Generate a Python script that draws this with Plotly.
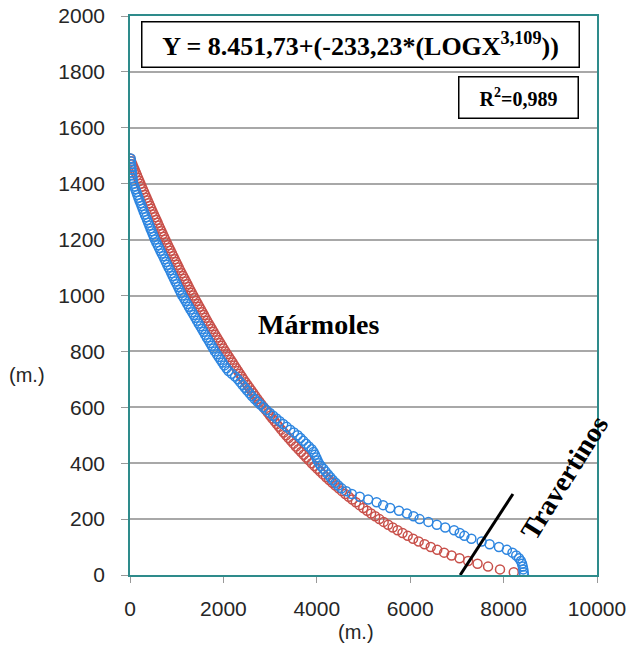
import plotly.graph_objects as go

# Fitted curve (red): distance (m) vs elevation (m)
red_elev = [1490, 1480, 1470, 1460, 1450, 1440, 1430, 1420, 1410, 1400,
            1390, 1380, 1370, 1360, 1350, 1340, 1330, 1320, 1310, 1300,
            1290, 1280, 1270, 1260, 1250, 1240, 1230, 1220, 1210, 1200,
            1190, 1180, 1170, 1160, 1150, 1140, 1130, 1120, 1110, 1100,
            1090, 1080, 1070, 1060, 1050, 1040, 1030, 1020, 1010, 1000,
            990, 980, 970, 960, 950, 940, 930, 920, 910, 900,
            890, 880, 870, 860, 850, 840, 830, 820, 810, 800,
            790, 780, 770, 760, 750, 740, 730, 720, 710, 700,
            690, 680, 670, 660, 650, 640, 630, 620, 610, 600,
            590, 580, 570, 560, 550, 540, 530, 520, 510, 500,
            490, 480, 470, 460, 450, 440, 430, 420, 410, 400,
            390, 380, 370, 360, 350, 340, 330, 320, 310, 300,
            290, 280, 270, 260, 250, 240, 230, 220, 210, 200,
            190, 180, 170, 160, 150, 140, 130, 120, 110, 100,
            90, 80, 70, 60, 50, 40, 30, 20, 10]
red_dist = [1, 25, 50, 74, 99, 124, 149, 174, 199, 224,
            249, 275, 301, 327, 353, 379, 405, 431, 457, 483,
            511, 538, 565, 592, 619, 646, 673, 700, 728, 756,
            784, 812, 841, 870, 899, 928, 957, 986, 1015, 1044,
            1074, 1105, 1136, 1167, 1198, 1229, 1260, 1291, 1322, 1353,
            1386, 1419, 1452, 1485, 1518, 1551, 1584, 1617, 1650, 1684,
            1719, 1754, 1789, 1825, 1861, 1897, 1933, 1969, 2005, 2042,
            2080, 2118, 2157, 2196, 2235, 2274, 2313, 2352, 2392, 2432,
            2474, 2516, 2558, 2600, 2642, 2685, 2728, 2772, 2816, 2861,
            2908, 2955, 3002, 3049, 3096, 3144, 3192, 3241, 3291, 3342,
            3394, 3447, 3500, 3553, 3607, 3663, 3719, 3776, 3833, 3891,
            3951, 4012, 4073, 4136, 4200, 4266, 4332, 4399, 4468, 4538,
            4610, 4684, 4759, 4836, 4914, 4995, 5078, 5163, 5250, 5340,
            5432, 5528, 5626, 5729, 5835, 5946, 6061, 6181, 6308, 6440,
            6579, 6727, 6886, 7056, 7240, 7442, 7667, 7923, 8218]

# Observed profile (blue)
blue_elev = [1490, 1480, 1470, 1460, 1450, 1440, 1430, 1420, 1410, 1400,
             1390, 1380, 1370, 1360, 1350, 1340, 1330, 1320, 1310, 1300,
             1290, 1280, 1270, 1260, 1250, 1240, 1230, 1220, 1210, 1200,
             1190, 1180, 1170, 1160, 1150, 1140, 1130, 1120, 1110, 1100,
             1090, 1080, 1070, 1060, 1050, 1040, 1030, 1020, 1010, 1000,
             990, 980, 970, 960, 950, 940, 930, 920, 910, 900,
             890, 880, 870, 860, 850, 840, 830, 820, 810, 800,
             790, 780, 770, 760, 750, 740, 730, 720, 710, 700,
             690, 680, 670, 660, 650, 640, 630, 620, 610, 600,
             590, 580, 570, 560, 550, 540, 530, 520, 510, 500,
             490, 480, 470, 460, 450, 440, 430, 420, 410, 400,
             390, 380, 370, 360, 350, 340, 330, 320, 310, 300,
             290, 280, 270, 260, 250, 240, 230, 220, 210, 200,
             190, 180, 170, 160, 150, 140, 130, 120, 110, 100,
             90, 80, 70, 60, 50, 40, 30, 20, 10, 0]
blue_dist = [15, 18, 22, 28, 34, 40, 47, 54, 62, 71,
             92, 114, 136, 158, 180, 203, 226, 249, 272, 295,
             319, 343, 367, 391, 415, 439, 463, 487, 511, 535,
             564, 593, 622, 651, 680, 710, 739, 768, 797, 827,
             856, 885, 914, 944, 973, 1002, 1032, 1061, 1090, 1120,
             1155, 1190, 1225, 1260, 1295, 1330, 1365, 1400, 1435, 1470,
             1505, 1540, 1575, 1610, 1645, 1680, 1715, 1750, 1785, 1820,
             1860, 1900, 1940, 1980, 2020, 2065, 2110, 2180, 2250, 2310,
             2360, 2410, 2460, 2510, 2560, 2610, 2670, 2730, 2790, 2855,
             2925, 2995, 3065, 3135, 3205, 3280, 3355, 3430, 3510, 3590,
             3650, 3710, 3770, 3830, 3890, 3930, 3960, 3990, 4015, 4045,
             4090, 4140, 4190, 4240, 4290, 4340, 4400, 4460, 4530, 4630,
             4750, 4920, 5100, 5280, 5420, 5570, 5760, 5930, 6070, 6200,
             6390, 6570, 6750, 6940, 7060, 7160, 7310, 7530, 7700, 7900,
             8070, 8190, 8270, 8330, 8370, 8395, 8410, 8422, 8430, 8436]

# Boundary line between Mármoles and Travertinos
trav_line_x = [7070, 8200]
trav_line_y = [0, 290]

x_ticks = [0, 2000, 4000, 6000, 8000, 10000]
x_ticktext = ["0", "2000", "4000", "6000", "8000", "10000"]
y_ticks = [0, 200, 400, 600, 800, 1000, 1200, 1400, 1600, 1800, 2000]
y_ticktext = ["0", "200", "400", "600", "800", "1000", "1200", "1400", "1600", "1800", "2000"]

RED = "#C8504A"
BLUE = "#2E86E0"
TEAL = "#2E8B8B"
SERIF = "Liberation Serif, Times New Roman, serif"
SANS = "Liberation Sans, Arial, sans-serif"

fig = go.Figure()
fig.add_trace(go.Scatter(
    x=red_dist, y=red_elev, mode="markers",
    marker=dict(symbol="circle-open", size=9, color=RED, line=dict(width=1.5, color=RED)),
    showlegend=False, hoverinfo="skip"))
fig.add_trace(go.Scatter(
    x=blue_dist, y=blue_elev, mode="markers",
    marker=dict(symbol="circle-open", size=9, color=BLUE, line=dict(width=1.5, color=BLUE)),
    showlegend=False, hoverinfo="skip"))
fig.add_trace(go.Scatter(
    x=trav_line_x, y=trav_line_y, mode="lines",
    line=dict(color="black", width=3),
    showlegend=False, hoverinfo="skip"))

fig.update_layout(
    width=631, height=649,
    margin=dict(l=130, r=34, t=16, b=74, autoexpand=False),
    paper_bgcolor="white", plot_bgcolor="white",
    font=dict(family=SANS, color="#262626"),
    xaxis=dict(range=[0, 10000], tickvals=x_ticks, ticktext=x_ticktext,
               showgrid=False, zeroline=False, automargin=False,
               showline=True, linecolor=TEAL, linewidth=1.5, mirror=True,
               ticks="outside", ticklen=6, tickcolor="#999999", tickwidth=1,
               tickfont=dict(size=21, family=SANS, color="#262626"),
               ticklabelstandoff=8),
    yaxis=dict(range=[0, 2000], tickvals=y_ticks, ticktext=y_ticktext,
               showgrid=True, gridcolor="#A8A8A8", gridwidth=1.5, zeroline=False,
               automargin=False,
               showline=True, linecolor=TEAL, linewidth=1.5, mirror=True,
               ticks="outside", ticklen=7, tickcolor="#999999", tickwidth=1,
               tickfont=dict(size=21, family=SANS, color="#262626"),
               ticklabelstandoff=12),
)

annotations = [
    dict(text="<b>Y = 8.451,73+(-233,23*(LOGX<sup>3,109</sup>))</b>",
         xref="paper", yref="paper", x=0.4936, y=0.949, xanchor="center", yanchor="middle",
         showarrow=False, font=dict(family=SERIF, size=26, color="black"),
         bgcolor="white", bordercolor="black", borderwidth=1.5, borderpad=3,
         width=430, height=38),
    dict(text="<b>R<sup>2</sup>=0,989</b>",
         xref="paper", yref="paper", x=0.831, y=0.854, xanchor="center", yanchor="middle",
         showarrow=False, font=dict(family=SERIF, size=20, color="black"),
         bgcolor="white", bordercolor="black", borderwidth=1.5, borderpad=3,
         width=112, height=34),
    dict(text="<b>Mármoles</b>",
         xref="paper", yref="paper", x=(318 - 130) / 467, y=(575 - 324) / 559,
         xanchor="center", yanchor="middle", showarrow=False,
         font=dict(family=SERIF, size=28, color="black")),
    dict(text="<b>Travertinos</b>",
         xref="paper", yref="paper", x=(564 - 130) / 467, y=(575 - 477) / 559,
         xanchor="center", yanchor="middle", showarrow=False, textangle=-58,
         font=dict(family=SERIF, size=28, color="black")),
    dict(text="(m.)", xref="paper", yref="paper", x=(27 - 130) / 467, y=(575 - 375) / 559,
         xanchor="center", yanchor="middle", showarrow=False,
         font=dict(family=SANS, size=20, color="#262626")),
    dict(text="(m.)", xref="paper", yref="paper", x=(356 - 130) / 467, y=(575 - 632) / 559,
         xanchor="center", yanchor="middle", showarrow=False,
         font=dict(family=SANS, size=20, color="#262626")),
]
fig.update_layout(annotations=annotations)

fig.write_html("out.html")
